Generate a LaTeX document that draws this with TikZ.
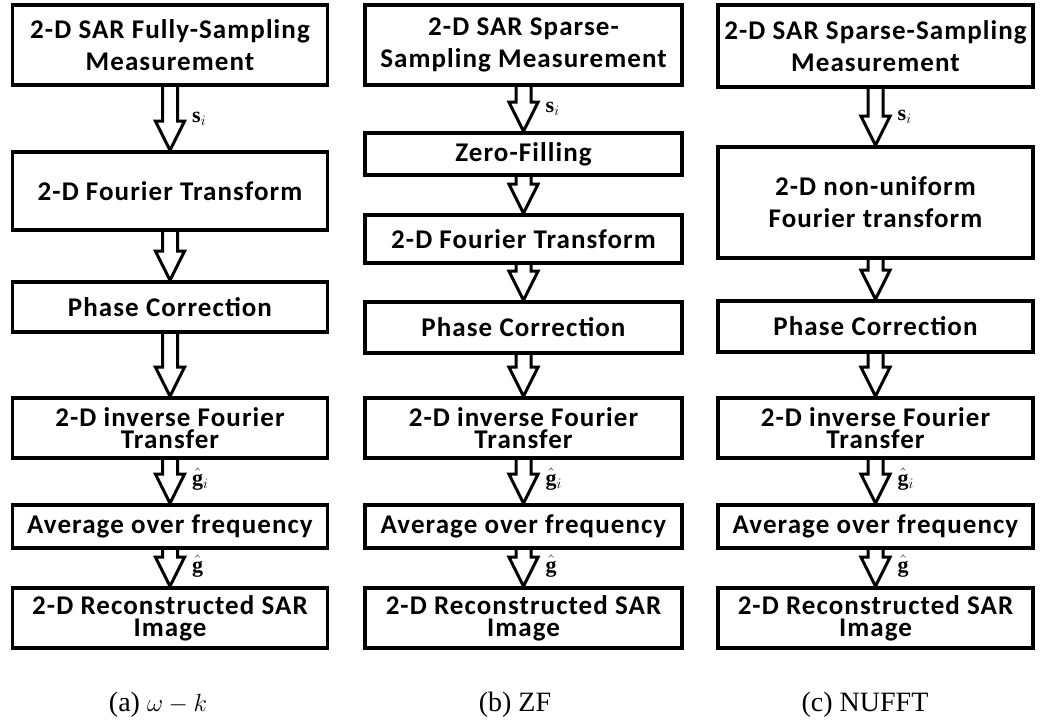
\documentclass[tikz,border=0pt]{standalone}
\usepackage{fontspec}
\setmainfont{Liberation Serif}
\newfontfamily\boxfont[LetterSpace=4]{Carlito}
\usetikzlibrary{positioning,calc}

\tikzset{
  procbox/.style={draw, line width=3.5pt, inner sep=0pt, align=center,
    minimum width=315pt, font=\boxfont\bfseries\fontsize{27}{32}\selectfont},
  tightbox/.style={procbox, font=\boxfont\bfseries\fontsize{27}{22}\selectfont},
  hollow/.style={line width=3pt, line join=miter},
  sig/.style={font=\fontsize{22}{26}\selectfont, inner sep=0pt},
  capt/.style={font=\fontsize{28}{32}\selectfont, inner sep=0pt}
}

\newcommand{\hollowarrow}[2]{%
  \draw[hollow] ($(#1.south)+(-7.5,0)$) -- ($(#2.north)+(-7.5,29)$)
    -- ($(#2.north)+(-14.5,29)$) -- (#2.north) -- ($(#2.north)+(14.5,29)$)
    -- ($(#2.north)+(7.5,29)$) -- ($(#1.south)+(7.5,0)$);}

\begin{document}
\begin{tikzpicture}[x=1pt,y=1pt]
\useasboundingbox (0,0) rectangle (1044,723);

\node[procbox, minimum height=80pt] (a1) at (170,678) {2-D SAR Fully-Sampling\\Measurement};
\node[procbox, minimum height=78pt] (a2) at (170,532) {2-D Fourier Transform};
\node[procbox, minimum height=50pt] (a3) at (170,416) {Phase Correction};
\node[tightbox, minimum height=60pt] (a4) at (170,295) {2-D inverse Fourier\\Transfer};
\node[procbox, minimum height=43pt] (a5) at (170,196.5) {Average over frequency};
\node[tightbox, minimum height=60pt] (a6) at (170,105) {2-D Reconstructed SAR\\Image};

\node[procbox, minimum width=317pt, minimum height=80pt] (b1) at (523.5,678) {2-D SAR Sparse-\\Sampling Measurement};
\node[procbox, minimum width=317pt, minimum height=42pt] (b2) at (523.5,569) {Zero-Filling};
\node[procbox, minimum width=317pt, minimum height=48pt] (b3) at (523.5,484) {2-D Fourier Transform};
\node[procbox, minimum width=317pt, minimum height=51pt] (b4) at (523.5,395.5) {Phase Correction};
\node[tightbox, minimum width=317pt, minimum height=60pt] (b5) at (523.5,295) {2-D inverse Fourier\\Transfer};
\node[procbox, minimum width=317pt, minimum height=43pt] (b6) at (523.5,196.5) {Average over frequency};
\node[tightbox, minimum width=317pt, minimum height=60pt] (b7) at (523.5,105) {2-D Reconstructed SAR\\Image};

\node[procbox, minimum height=82pt] (c1) at (875.5,677) {2-D SAR Sparse-Sampling\\Measurement};
\node[procbox, minimum height=111pt] (c2) at (875.5,520.5) {2-D non-uniform\\Fourier transform};
\node[procbox, minimum height=51pt] (c3) at (875.5,396.5) {Phase Correction};
\node[tightbox, minimum height=60pt] (c4) at (875.5,295) {2-D inverse Fourier\\Transfer};
\node[procbox, minimum height=43pt] (c5) at (875.5,196.5) {Average over frequency};
\node[tightbox, minimum height=60pt] (c6) at (875.5,105) {2-D Reconstructed SAR\\Image};

\hollowarrow{a1}{a2}
\hollowarrow{a2}{a3}
\hollowarrow{a3}{a4}
\hollowarrow{a4}{a5}
\hollowarrow{a5}{a6}

\hollowarrow{b1}{b2}
\hollowarrow{b2}{b3}
\hollowarrow{b3}{b4}
\hollowarrow{b4}{b5}
\hollowarrow{b5}{b6}
\hollowarrow{b6}{b7}

\hollowarrow{c1}{c2}
\hollowarrow{c2}{c3}
\hollowarrow{c3}{c4}
\hollowarrow{c4}{c5}
\hollowarrow{c5}{c6}

\node[sig, right=22pt] (sa) at ($(a1.south)!0.5!(a2.north)$) {$\mathbf{s}_i$};
\node[sig, right=22pt] (ga) at ($(a4.south)!0.45!(a5.north)$) {$\hat{\mathbf{g}}_i$};
\node[sig, right=22pt] (gfa) at ($(a5.south)!0.45!(a6.north)$) {$\hat{\mathbf{g}}$};
\node[sig, right=22pt] (sb) at ($(b1.south)!0.5!(b2.north)$) {$\mathbf{s}_i$};
\node[sig, right=22pt] (gb) at ($(b5.south)!0.45!(b6.north)$) {$\hat{\mathbf{g}}_i$};
\node[sig, right=22pt] (gfb) at ($(b6.south)!0.45!(b7.north)$) {$\hat{\mathbf{g}}$};
\node[sig, right=22pt] (sc) at ($(c1.south)!0.5!(c2.north)$) {$\mathbf{s}_i$};
\node[sig, right=22pt] (gc) at ($(c4.south)!0.45!(c5.north)$) {$\hat{\mathbf{g}}_i$};
\node[sig, right=22pt] (gfc) at ($(c5.south)!0.45!(c6.north)$) {$\hat{\mathbf{g}}$};

\node[capt] (capa) at (158,18) {(a) $\omega-k$};
\node[capt] (capb) at (515,18) {(b) ZF};
\node[capt] (capc) at (865,18) {(c) NUFFT};

\end{tikzpicture}
\end{document}
